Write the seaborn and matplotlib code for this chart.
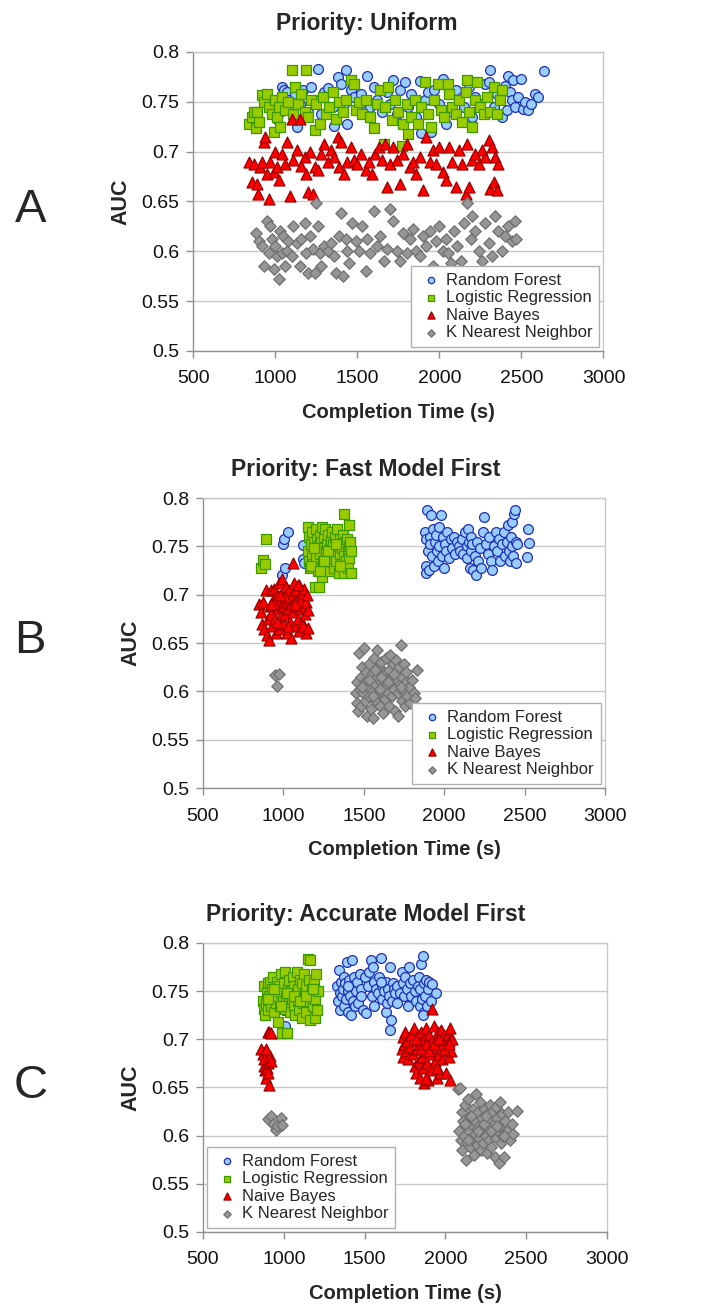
import matplotlib
matplotlib.use("Agg")
import matplotlib.pyplot as plt
import seaborn as sns
import pandas as pd

# ---------------- data ----------------
# Panel A : Priority Uniform
a_rf = [(1010,0.733),(1030,0.740),(1040,0.765),(1055,0.762),(1070,0.760),(1085,0.752),(1100,0.745),(1120,0.758),(1130,0.725),(1150,0.748),(1170,0.762),(1200,0.740),(1220,0.765),(1240,0.752),(1260,0.783),(1280,0.738),(1300,0.760),(1320,0.764),(1350,0.745),(1360,0.726),(1380,0.775),(1400,0.768),(1420,0.748),(1430,0.782),(1440,0.728),(1460,0.762),(1480,0.755),(1500,0.742),(1520,0.758),(1540,0.748),(1560,0.776),(1580,0.745),(1600,0.765),(1620,0.752),(1650,0.740),(1680,0.760),(1700,0.748),(1720,0.772),(1740,0.738),(1760,0.762),(1790,0.770),(1810,0.745),(1830,0.758),(1860,0.735),(1880,0.771),(1890,0.719),(1910,0.752),(1930,0.760),(1950,0.720),(1970,0.762),(2000,0.748),(2020,0.773),(2040,0.728),(2060,0.758),(2080,0.740),(2100,0.762),(2120,0.752),(2150,0.745),(2180,0.765),(2200,0.735),(2220,0.755),(2250,0.748),(2280,0.768),(2300,0.770),(2310,0.782),(2330,0.745),(2350,0.758),(2380,0.735),(2400,0.766),(2410,0.742),(2420,0.776),(2430,0.760),(2440,0.752),(2450,0.772),(2460,0.745),(2480,0.755),(2500,0.773),(2510,0.743),(2520,0.750),(2540,0.742),(2560,0.748),(2580,0.758),(2600,0.755),(2640,0.781)]
a_lr = [(840,0.728),(860,0.735),(870,0.740),(880,0.724),(890,0.740),(900,0.730),(920,0.757),(930,0.750),(950,0.758),(960,0.745),(980,0.738),(990,0.720),(1000,0.752),(1010,0.735),(1020,0.745),(1030,0.725),(1040,0.755),(1060,0.742),(1080,0.750),(1100,0.782),(1110,0.738),(1120,0.765),(1140,0.748),(1160,0.758),(1180,0.740),(1190,0.782),(1200,0.735),(1220,0.752),(1240,0.722),(1250,0.748),(1270,0.728),(1290,0.755),(1310,0.738),(1330,0.745),(1350,0.760),(1370,0.733),(1390,0.750),(1410,0.740),(1430,0.752),(1460,0.772),(1480,0.768),(1490,0.742),(1510,0.750),(1530,0.738),(1550,0.752),(1580,0.735),(1600,0.724),(1620,0.748),(1640,0.762),(1660,0.708),(1670,0.745),(1690,0.765),(1710,0.732),(1730,0.752),(1750,0.740),(1770,0.706),(1780,0.728),(1800,0.748),(1810,0.718),(1830,0.735),(1850,0.752),(1870,0.728),(1890,0.745),(1910,0.770),(1930,0.738),(1950,0.725),(1970,0.752),(1990,0.768),(2010,0.742),(2030,0.735),(2050,0.768),(2060,0.758),(2080,0.745),(2100,0.738),(2120,0.752),(2140,0.730),(2160,0.760),(2170,0.772),(2180,0.740),(2200,0.725),(2220,0.752),(2230,0.770),(2250,0.745),(2270,0.738),(2290,0.755),(2310,0.740),(2330,0.765),(2350,0.738),(2370,0.752),(2380,0.762)]
a_nb = [(840,0.690),(860,0.670),(870,0.688),(890,0.668),(895,0.658),(910,0.685),(920,0.690),(930,0.710),(940,0.715),(950,0.678),(960,0.652),(970,0.690),(990,0.680),(1000,0.700),(1010,0.685),(1020,0.672),(1040,0.698),(1060,0.688),(1070,0.710),(1090,0.655),(1100,0.733),(1110,0.692),(1130,0.702),(1150,0.733),(1160,0.686),(1180,0.695),(1190,0.678),(1200,0.660),(1210,0.700),(1230,0.658),(1240,0.685),(1260,0.682),(1280,0.698),(1300,0.708),(1320,0.690),(1340,0.702),(1360,0.695),(1380,0.715),(1390,0.685),(1400,0.710),(1420,0.678),(1440,0.690),(1460,0.705),(1480,0.692),(1500,0.688),(1520,0.698),(1550,0.682),(1570,0.690),(1590,0.678),(1610,0.698),(1630,0.705),(1650,0.692),(1670,0.708),(1680,0.665),(1700,0.688),(1720,0.705),(1740,0.692),(1760,0.668),(1780,0.698),(1800,0.708),(1820,0.685),(1840,0.690),(1860,0.678),(1880,0.695),(1900,0.662),(1920,0.715),(1940,0.690),(1960,0.702),(1980,0.688),(2000,0.705),(2020,0.680),(2040,0.672),(2060,0.705),(2080,0.690),(2100,0.665),(2120,0.702),(2140,0.688),(2160,0.658),(2170,0.708),(2180,0.665),(2200,0.692),(2220,0.698),(2240,0.688),(2260,0.702),(2280,0.695),(2300,0.712),(2310,0.663),(2320,0.705),(2330,0.670),(2340,0.695),(2350,0.662),(2360,0.688)]
a_knn = [(880,0.618),(900,0.610),(920,0.605),(930,0.585),(950,0.630),(960,0.598),(970,0.625),(980,0.612),(990,0.582),(1000,0.605),(1010,0.595),(1020,0.572),(1030,0.620),(1040,0.598),(1050,0.615),(1060,0.585),(1070,0.600),(1080,0.610),(1100,0.595),(1110,0.625),(1130,0.608),(1150,0.585),(1160,0.612),(1180,0.628),(1190,0.598),(1200,0.578),(1210,0.615),(1230,0.602),(1240,0.578),(1250,0.648),(1260,0.625),(1270,0.598),(1280,0.585),(1300,0.605),(1320,0.600),(1340,0.608),(1360,0.595),(1370,0.578),(1390,0.615),(1400,0.638),(1410,0.575),(1430,0.612),(1440,0.600),(1450,0.588),(1470,0.628),(1490,0.610),(1510,0.600),(1530,0.625),(1550,0.580),(1560,0.612),(1580,0.598),(1600,0.640),(1620,0.605),(1640,0.615),(1660,0.590),(1680,0.602),(1700,0.642),(1720,0.630),(1740,0.600),(1760,0.590),(1780,0.618),(1800,0.598),(1820,0.612),(1840,0.622),(1860,0.600),(1880,0.595),(1900,0.615),(1920,0.605),(1940,0.620),(1960,0.585),(1980,0.610),(2000,0.625),(2020,0.600),(2040,0.612),(2050,0.598),(2070,0.588),(2090,0.620),(2110,0.605),(2130,0.590),(2150,0.628),(2170,0.648),(2190,0.612),(2200,0.635),(2220,0.620),(2240,0.600),(2260,0.590),(2280,0.628),(2300,0.608),(2320,0.595),(2340,0.635),(2360,0.620),(2380,0.600),(2400,0.615),(2420,0.625),(2440,0.610),(2460,0.630),(2470,0.612)]

# Panel B : Priority Fast Model First
b_rf = [(990,0.720),(1010,0.728),(1000,0.752),(1005,0.758),(1030,0.765),(1120,0.751),(1120,0.737),(1130,0.733),(1880,0.765),(1885,0.758),(1890,0.730),(1890,0.722),(1895,0.788),(1900,0.745),(1905,0.726),(1910,0.760),(1915,0.752),(1920,0.782),(1925,0.740),(1930,0.768),(1935,0.730),(1940,0.755),(1950,0.762),(1955,0.745),(1960,0.735),(1965,0.770),(1970,0.750),(1980,0.782),(1985,0.740),(1990,0.760),(2000,0.728),(2005,0.752),(2010,0.745),(2020,0.765),(2030,0.738),(2040,0.758),(2050,0.748),(2060,0.760),(2070,0.742),(2080,0.755),(2090,0.750),(2100,0.745),(2110,0.758),(2120,0.742),(2130,0.765),(2140,0.750),(2145,0.738),(2150,0.768),(2155,0.755),(2160,0.728),(2165,0.745),(2170,0.760),(2175,0.752),(2180,0.726),(2190,0.740),(2200,0.720),(2205,0.755),(2210,0.735),(2220,0.748),(2230,0.728),(2240,0.765),(2250,0.780),(2260,0.752),(2270,0.742),(2280,0.760),(2290,0.735),(2300,0.726),(2310,0.750),(2320,0.765),(2330,0.745),(2340,0.758),(2350,0.735),(2360,0.752),(2370,0.765),(2380,0.740),(2390,0.755),(2400,0.772),(2405,0.745),(2410,0.735),(2415,0.760),(2420,0.775),(2425,0.750),(2430,0.740),(2435,0.783),(2440,0.788),(2445,0.755),(2450,0.733),(2455,0.752),(2520,0.768),(2525,0.753),(2515,0.739)]
b_lr = [(860,0.728),(875,0.736),(885,0.732),(890,0.758),(1150,0.770),(1155,0.745),(1160,0.735),(1160,0.760),(1165,0.728),(1170,0.752),(1175,0.740),(1180,0.765),(1185,0.732),(1190,0.755),(1195,0.708),(1200,0.745),(1200,0.768),(1205,0.738),(1210,0.758),(1215,0.725),(1220,0.750),(1220,0.708),(1225,0.762),(1230,0.742),(1235,0.755),(1240,0.718),(1240,0.770),(1245,0.735),(1250,0.748),(1255,0.760),(1260,0.728),(1260,0.768),(1265,0.745),(1270,0.752),(1275,0.738),(1280,0.762),(1285,0.725),(1290,0.748),(1295,0.757),(1300,0.735),(1300,0.765),(1305,0.742),(1310,0.752),(1315,0.728),(1320,0.760),(1325,0.745),(1330,0.735),(1335,0.768),(1340,0.750),(1345,0.722),(1350,0.742),(1355,0.758),(1360,0.732),(1365,0.748),(1370,0.762),(1375,0.740),(1380,0.783),(1380,0.722),(1385,0.755),(1390,0.735),(1395,0.758),(1400,0.745),(1400,0.728),(1405,0.750),(1410,0.772),(1410,0.738),(1415,0.755),(1420,0.722),(1420,0.745),(1170,0.730),(1230,0.725),(1280,0.745),(1330,0.752),(1350,0.730),(1250,0.735),(1190,0.748)]
b_nb = [(850,0.690),(860,0.682),(865,0.670),(870,0.692),(880,0.665),(890,0.705),(900,0.658),(905,0.675),(910,0.653),(915,0.688),(920,0.705),(925,0.680),(930,0.668),(935,0.695),(940,0.706),(945,0.675),(950,0.690),(955,0.660),(960,0.700),(965,0.685),(970,0.712),(975,0.665),(980,0.695),(985,0.678),(990,0.716),(995,0.688),(1000,0.670),(1000,0.702),(1005,0.692),(1010,0.680),(1015,0.708),(1020,0.660),(1025,0.695),(1030,0.685),(1035,0.705),(1040,0.672),(1045,0.690),(1050,0.655),(1055,0.700),(1060,0.733),(1060,0.682),(1065,0.712),(1070,0.668),(1075,0.695),(1080,0.705),(1085,0.688),(1090,0.675),(1095,0.698),(1100,0.710),(1100,0.662),(1105,0.685),(1110,0.695),(1115,0.672),(1120,0.702),(1120,0.668),(1125,0.688),(1130,0.706),(1135,0.680),(1140,0.692),(1140,0.660),(1145,0.700),(1150,0.684),(1150,0.666),(940,0.690),(960,0.672),(1010,0.698),(1030,0.668),(1070,0.690),(1090,0.710),(980,0.700),(920,0.690)]
b_knn = [(950,0.617),(970,0.618),(960,0.606),(1450,0.598),(1455,0.588),(1460,0.610),(1465,0.580),(1470,0.640),(1475,0.602),(1480,0.615),(1485,0.585),(1490,0.625),(1495,0.598),(1500,0.645),(1505,0.610),(1510,0.590),(1515,0.620),(1520,0.575),(1525,0.605),(1530,0.628),(1535,0.595),(1540,0.612),(1545,0.582),(1550,0.618),(1555,0.600),(1560,0.572),(1565,0.635),(1570,0.608),(1575,0.590),(1580,0.643),(1585,0.615),(1590,0.598),(1595,0.625),(1600,0.585),(1605,0.610),(1610,0.630),(1615,0.600),(1620,0.578),(1625,0.618),(1630,0.605),(1635,0.592),(1640,0.635),(1645,0.612),(1650,0.598),(1655,0.622),(1660,0.585),(1665,0.638),(1670,0.608),(1675,0.595),(1680,0.628),(1685,0.615),(1690,0.602),(1695,0.580),(1700,0.632),(1705,0.612),(1710,0.575),(1715,0.598),(1720,0.625),(1725,0.608),(1730,0.648),(1735,0.590),(1740,0.615),(1745,0.600),(1750,0.628),(1755,0.585),(1760,0.610),(1765,0.620),(1770,0.595),(1780,0.605),(1790,0.588),(1800,0.612),(1810,0.598),(1830,0.622),(1820,0.593),(1490,0.605),(1530,0.612),(1570,0.622),(1610,0.615),(1650,0.610),(1690,0.618),(1730,0.605),(1560,0.595),(1600,0.602)]

# Panel C : Priority Accurate Model First
c_rf = [(1330,0.755),(1335,0.740),(1340,0.772),(1345,0.748),(1350,0.730),(1355,0.760),(1360,0.745),(1365,0.752),(1370,0.735),(1375,0.765),(1380,0.758),(1385,0.742),(1390,0.780),(1395,0.750),(1400,0.728),(1405,0.762),(1410,0.745),(1415,0.725),(1420,0.782),(1425,0.755),(1430,0.740),(1435,0.765),(1440,0.735),(1445,0.750),(1450,0.760),(1460,0.738),(1470,0.768),(1480,0.752),(1490,0.730),(1500,0.765),(1510,0.727),(1520,0.755),(1530,0.770),(1540,0.782),(1545,0.745),(1550,0.775),(1555,0.735),(1560,0.760),(1570,0.752),(1580,0.748),(1590,0.765),(1600,0.784),(1605,0.742),(1610,0.755),(1620,0.750),(1630,0.728),(1635,0.760),(1640,0.738),(1645,0.752),(1650,0.745),(1655,0.775),(1660,0.710),(1665,0.720),(1670,0.740),(1675,0.758),(1680,0.752),(1690,0.748),(1700,0.755),(1720,0.748),(1730,0.770),(1740,0.758),(1745,0.745),(1750,0.765),(1760,0.752),(1770,0.735),(1775,0.775),(1780,0.758),(1790,0.745),(1800,0.762),(1810,0.750),(1820,0.740),(1830,0.755),(1835,0.765),(1840,0.735),(1845,0.752),(1850,0.778),(1855,0.742),(1860,0.787),(1865,0.758),(1870,0.728),(1875,0.745),(1880,0.762),(1885,0.735),(1890,0.752),(1900,0.760),(1910,0.740),(1920,0.757),(1940,0.748),(1860,0.725),(1700,0.738),(1600,0.760),(1480,0.745),(1400,0.755),(1000,0.730),(1005,0.714)]
c_lr = [(870,0.740),(875,0.732),(880,0.755),(885,0.725),(890,0.738),(895,0.748),(900,0.758),(905,0.730),(910,0.745),(915,0.760),(920,0.735),(925,0.752),(930,0.742),(935,0.765),(940,0.728),(945,0.750),(950,0.738),(955,0.760),(960,0.745),(965,0.718),(970,0.755),(975,0.735),(980,0.768),(985,0.748),(990,0.707),(995,0.740),(1000,0.758),(1005,0.732),(1010,0.770),(1015,0.745),(1020,0.707),(1025,0.752),(1030,0.738),(1035,0.762),(1040,0.728),(1045,0.750),(1050,0.742),(1055,0.765),(1060,0.735),(1065,0.755),(1070,0.725),(1075,0.748),(1080,0.770),(1085,0.740),(1090,0.752),(1095,0.730),(1100,0.762),(1105,0.745),(1110,0.722),(1115,0.758),(1120,0.738),(1125,0.768),(1130,0.748),(1135,0.728),(1140,0.755),(1145,0.740),(1150,0.783),(1155,0.762),(1160,0.720),(1165,0.782),(1170,0.745),(1175,0.752),(1180,0.735),(1185,0.760),(1190,0.742),(1195,0.722),(1200,0.768),(1205,0.730),(1210,0.750),(900,0.742),(940,0.752),(980,0.735),(1020,0.748),(1060,0.745),(1100,0.740),(1140,0.745),(1180,0.752)]
c_nb = [(860,0.690),(870,0.685),(875,0.672),(880,0.680),(885,0.668),(890,0.660),(895,0.670),(900,0.675),(905,0.708),(910,0.708),(915,0.683),(920,0.677),(910,0.653),(900,0.665),(890,0.690),(920,0.707),(1730,0.690),(1735,0.702),(1740,0.682),(1745,0.695),(1750,0.708),(1755,0.688),(1760,0.698),(1770,0.680),(1780,0.692),(1790,0.705),(1800,0.685),(1805,0.712),(1810,0.672),(1815,0.698),(1820,0.665),(1825,0.690),(1830,0.705),(1835,0.678),(1840,0.660),(1845,0.695),(1850,0.708),(1855,0.682),(1860,0.670),(1865,0.700),(1870,0.655),(1875,0.688),(1880,0.712),(1885,0.675),(1890,0.695),(1895,0.658),(1900,0.705),(1905,0.685),(1910,0.668),(1915,0.698),(1920,0.732),(1925,0.690),(1930,0.714),(1935,0.678),(1940,0.700),(1945,0.660),(1950,0.692),(1955,0.708),(1960,0.685),(1965,0.665),(1970,0.698),(1975,0.710),(1980,0.680),(1985,0.695),(1990,0.705),(1995,0.688),(2000,0.700),(2005,0.665),(2010,0.692),(2015,0.705),(2020,0.682),(2025,0.698),(2030,0.712),(2035,0.688),(2040,0.700),(2030,0.658),(1850,0.690),(1880,0.695),(1900,0.688),(1930,0.695),(1960,0.700),(1990,0.690),(2020,0.695),(1820,0.700),(1950,0.670),(1880,0.660)]
c_knn = [(900,0.617),(920,0.620),(930,0.612),(950,0.606),(960,0.610),(980,0.618),(990,0.611),(2080,0.648),(2090,0.649),(2085,0.605),(2095,0.595),(2100,0.625),(2105,0.585),(2110,0.615),(2115,0.600),(2120,0.632),(2125,0.575),(2130,0.610),(2135,0.592),(2140,0.638),(2145,0.605),(2150,0.620),(2155,0.588),(2160,0.612),(2165,0.598),(2170,0.628),(2175,0.580),(2180,0.615),(2185,0.602),(2190,0.643),(2195,0.590),(2200,0.625),(2205,0.610),(2210,0.598),(2215,0.635),(2220,0.585),(2225,0.618),(2230,0.605),(2235,0.592),(2240,0.628),(2245,0.612),(2250,0.600),(2255,0.582),(2260,0.622),(2265,0.608),(2270,0.595),(2275,0.632),(2280,0.615),(2285,0.588),(2290,0.625),(2295,0.602),(2300,0.612),(2305,0.578),(2310,0.630),(2315,0.598),(2320,0.618),(2325,0.605),(2330,0.572),(2335,0.635),(2340,0.610),(2345,0.592),(2350,0.622),(2355,0.600),(2360,0.578),(2370,0.615),(2380,0.605),(2390,0.625),(2400,0.595),(2410,0.612),(2420,0.602),(2440,0.626),(2120,0.612),(2160,0.620),(2200,0.605),(2240,0.612),(2280,0.605),(2320,0.610),(2360,0.600),(2140,0.595),(2250,0.620)]

series_names = ["Random Forest", "Logistic Regression", "Naive Bayes", "K Nearest Neighbor"]
titles = ["Priority: Uniform", "Priority: Fast Model First", "Priority: Accurate Model First"]
panel_letters = ["A", "B", "C"]
x_ticks = [500, 1000, 1500, 2000, 2500, 3000]
y_ticks = [0.5, 0.55, 0.6, 0.65, 0.7, 0.75, 0.8]
y_tick_labels = ["0.5", "0.55", "0.6", "0.65", "0.7", "0.75", "0.8"]

panels = [[a_rf, a_lr, a_nb, a_knn], [b_rf, b_lr, b_nb, b_knn], [c_rf, c_lr, c_nb, c_knn]]

# ---------------- style ----------------
sns.set_style("white")
plt.rcParams["font.family"] = ["Liberation Sans", "DejaVu Sans"]

styles = {
    "Random Forest": dict(marker="o", color="#99CCFF", edgecolor="#1F2FB0", s=50),
    "Logistic Regression": dict(marker="s", color="#99CC00", edgecolor="#3A9A00", s=48),
    "Naive Bayes": dict(marker="^", color="#FF0000", edgecolor="#9A0000", s=62),
    "K Nearest Neighbor": dict(marker="D", color="#969696", edgecolor="#707070", s=34),
}

fig = plt.figure(figsize=(7.05, 13.13), dpi=100)
axes_rects = [
    [0.274, 0.7327, 0.582, 0.2277],
    [0.288, 0.3998, 0.570, 0.2209],
    [0.288, 0.0617, 0.573, 0.2201],
]
title_x = [0.422, 0.405, 0.403]
legend_locs = ["lower right", "lower right", "lower left"]
letter_y = [0.840, 0.512, 0.173]

for i, rect in enumerate(axes_rects):
    ax = fig.add_axes(rect)
    for name, pts in zip(series_names, panels[i]):
        df = pd.DataFrame(pts, columns=["time", "auc"])
        st = styles[name]
        sns.scatterplot(data=df, x="time", y="auc", ax=ax, marker=st["marker"],
                        color=st["color"], edgecolor=st["edgecolor"], linewidth=0.9,
                        s=st["s"], label=name, zorder=3)
    ax.set_xlim(500, 3000)
    ax.set_ylim(0.5, 0.8)
    ax.set_xticks(x_ticks)
    ax.set_yticks(y_ticks)
    ax.set_yticklabels(y_tick_labels)
    ax.yaxis.grid(True, color="#C8C8C8", linewidth=1.0, zorder=0)
    ax.set_axisbelow(True)
    for side in ["top", "right"]:
        ax.spines[side].set_color("#C8C8C8")
    for side in ["left", "bottom"]:
        ax.spines[side].set_color("#909090")
    for sp in ax.spines.values():
        sp.set_linewidth(1.0)
    ax.tick_params(axis="both", which="major", direction="out", length=5, width=1,
                   color="#909090", labelsize=14, labelcolor="#111111")
    ax.tick_params(axis="x", pad=9)
    ax.tick_params(axis="y", pad=5)
    ax.tick_params(left=True, bottom=True)
    ax.set_xlabel("Completion Time (s)", fontsize=14.5, fontweight="bold", labelpad=11)
    ax.set_ylabel("AUC", fontsize=15.5, fontweight="bold", labelpad=7)
    ax.set_title(titles[i], fontsize=16.5, fontweight="bold", pad=16, x=title_x[i])
    leg = ax.legend(loc=legend_locs[i], fontsize=12, markerscale=0.65, frameon=True,
                    fancybox=False, edgecolor="#B0B0B0", framealpha=1.0,
                    borderaxespad=0.25, labelspacing=0.15, handletextpad=0.1,
                    handlelength=1.6, borderpad=0.4)
    leg.get_frame().set_linewidth(1.0)
    leg.set_zorder(10)
    fig.text(0.043, letter_y[i], panel_letters[i], fontsize=34, ha="center", va="center")

fig.savefig("out.png", dpi=100)
